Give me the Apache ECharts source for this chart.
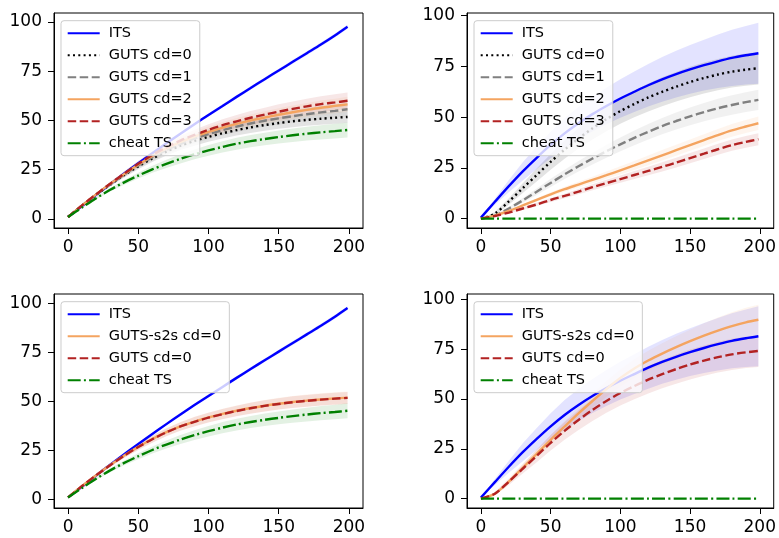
<!DOCTYPE html>
<html>
<head>
<meta charset="utf-8">
<script src="https://cdn.jsdelivr.net/npm/echarts/dist/echarts.min.js"></script>
<style>
  html, body { margin: 0; padding: 0; background: #fff; }
  #chart { width: 779px; height: 538px; }
</style>
</head>
<body>
<div id="chart"></div>
<script>
// x positions of the samples (steps)
var steps = [0, 10, 20, 30, 40, 50, 60, 70, 80, 90, 100, 110, 120, 130, 140, 150, 160, 170, 180, 190, 199];
var xTicks = [0, 50, 100, 150, 200];
var yTicks = [0, 25, 50, 75, 100];

// left column (panels 1 and 3)
var itsA         = [1, 6.6, 12.2, 17.7, 23.1, 28.3, 33.4, 38.4, 43.3, 48.1, 52.8, 57.4, 62, 66.5, 71, 75.4, 79.8, 84.2, 88.6, 93.2, 97.6];
var itsASpread   = [0.1, 0.2, 0.3, 0.4, 0.5, 0.5, 0.6, 0.6, 0.7, 0.7, 0.8, 0.8, 0.8, 0.9, 0.9, 0.9, 1, 1, 1, 1, 1];
var gutsA0       = [1, 6.8, 12.3, 17.4, 22.3, 26.7, 30.7, 34.2, 37.2, 39.6, 41.7, 43.5, 45.1, 46.5, 47.7, 48.7, 49.6, 50.3, 50.9, 51.4, 51.8];
var gutsA0Spread = [0.1, 0.3, 0.6, 0.9, 1.2, 1.5, 1.8, 2, 2.2, 2.4, 2.5, 2.6, 2.7, 2.8, 2.9, 2.9, 3, 3, 3, 3, 3];
var gutsA1       = [1, 6.8, 12.4, 17.6, 22.6, 27.2, 31.4, 35, 38.1, 40.8, 43.1, 45.1, 46.9, 48.5, 49.9, 51.1, 52.2, 53.2, 54.1, 54.9, 55.7];
var gutsA1Spread = [0.1, 0.3, 0.6, 0.9, 1.2, 1.5, 1.8, 2, 2.2, 2.4, 2.6, 2.7, 2.8, 2.9, 3, 3.1, 3.2, 3.3, 3.4, 3.4, 3.5];
var gutsA2       = [1, 6.9, 12.5, 17.8, 22.8, 27.6, 32, 35.8, 39, 41.8, 44.2, 46.4, 48.3, 50, 51.5, 52.9, 54.2, 55.4, 56.5, 57.4, 58.2];
var gutsA2Spread = [0.1, 0.3, 0.6, 0.9, 1.2, 1.5, 1.8, 2, 2.3, 2.5, 2.7, 2.8, 3, 3.1, 3.2, 3.3, 3.4, 3.5, 3.6, 3.7, 3.8];
var gutsA3       = [1, 6.9, 12.5, 17.9, 23, 28, 32.5, 36.4, 39.8, 42.7, 45.3, 47.6, 49.6, 51.4, 53, 54.5, 55.9, 57.2, 58.3, 59.2, 60];
var gutsA3Spread = [0.1, 0.3, 0.6, 0.9, 1.2, 1.5, 1.8, 2.1, 2.4, 2.6, 2.8, 3, 3.2, 3.4, 3.5, 3.7, 3.8, 3.9, 4, 4.1, 4.2];
var cheatA       = [1, 5.8, 10.5, 14.8, 18.6, 22, 25.2, 28, 30.5, 32.8, 34.8, 36.6, 38.2, 39.5, 40.6, 41.6, 42.5, 43.3, 44, 44.6, 45.2];
var cheatASpread = [0.1, 0.3, 0.6, 0.9, 1.2, 1.5, 1.8, 2.1, 2.3, 2.5, 2.7, 2.9, 3, 3.1, 3.2, 3.3, 3.4, 3.5, 3.6, 3.7, 3.8];
var s2sA         = [1, 6.8, 12.3, 17.5, 22.4, 26.8, 30.8, 34.3, 37.3, 39.7, 41.8, 43.6, 45.2, 46.6, 47.8, 48.8, 49.7, 50.4, 51, 51.5, 51.9];
var s2sASpread   = [0.1, 0.3, 0.6, 0.9, 1.2, 1.5, 1.8, 2, 2.2, 2.4, 2.5, 2.6, 2.7, 2.8, 2.9, 3, 3, 3.1, 3.1, 3.2, 3.2];

// right column (panels 2 and 4)
var itsB         = [0.5, 8.3, 16, 23.3, 30, 36.3, 42, 47, 51.5, 55.5, 59.2, 62.5, 65.7, 68.6, 71.2, 73.5, 75.6, 77.5, 79.2, 80.5, 81.5];
var itsBSpread   = [0, 1.5, 3, 4.5, 5.5, 6.5, 7.5, 8, 8.5, 9, 9.5, 10, 10.5, 11, 11.5, 12, 12.5, 13.2, 13.8, 14.4, 15];
var gutsB0       = [0, 2.5, 8.5, 15, 21.5, 28, 34, 39.5, 44.5, 49, 53, 56.5, 59.7, 62.5, 65, 67.3, 69.3, 71, 72.4, 73.4, 74.1];
var gutsB0Spread = [0, 0.8, 1.6, 2.4, 3.2, 3.9, 4.5, 5, 5.5, 5.9, 6.3, 6.6, 6.9, 7.1, 7.3, 7.5, 7.6, 7.7, 7.8, 7.9, 8];
var gutsB1       = [0, 1.5, 5, 9, 13.3, 17.6, 21.8, 25.8, 29.6, 33.2, 36.6, 39.8, 42.8, 45.6, 48.1, 50.4, 52.5, 54.4, 56, 57.4, 58.5];
var gutsB1Spread = [0, 0.4, 0.8, 1.2, 1.6, 2, 2.3, 2.6, 2.9, 3.2, 3.4, 3.6, 3.8, 4, 4.2, 4.4, 4.5, 4.7, 4.8, 4.9, 5];
var gutsB2       = [0, 1.5, 3.8, 6.5, 9.3, 12, 14.5, 16.8, 19.1, 21.4, 23.8, 26.2, 28.7, 31.2, 33.7, 36.2, 38.7, 41.2, 43.5, 45.4, 47];
var gutsB2Spread = [0, 0.2, 0.4, 0.6, 0.8, 1, 1.2, 1.4, 1.6, 1.8, 2, 2.2, 2.4, 2.6, 2.7, 2.8, 2.9, 3, 3.1, 3.2, 3.3];
var gutsB3       = [0, 1.3, 3, 5, 7, 9.2, 11.2, 13.3, 15.5, 17.5, 19.5, 21.5, 23.5, 25.5, 27.6, 29.8, 32, 34.2, 36.2, 37.8, 39.1];
var gutsB3Spread = [0, 0.2, 0.4, 0.6, 0.8, 1, 1.1, 1.3, 1.5, 1.7, 1.8, 2, 2.1, 2.3, 2.4, 2.5, 2.6, 2.7, 2.8, 2.9, 3];
var cheatB       = [0, 0, 0, 0, 0, 0, 0, 0, 0, 0, 0, 0, 0, 0, 0, 0, 0, 0, 0, 0, 0];
var s2sB         = [0, 2.5, 8.5, 15.5, 22.5, 29.5, 36.2, 42.8, 49, 55, 60.5, 65.3, 69.3, 72.8, 76, 79, 81.8, 84.3, 86.6, 88.5, 89.8];
var s2sBSpread   = [0, 0.5, 1, 1.5, 2, 2.4, 2.8, 3.2, 3.6, 4, 4.3, 4.6, 4.9, 5.2, 5.5, 5.8, 6.2, 6.6, 7, 7.3, 7.5];

var BLUE = '#0000ff', BLACK = '#000000', GRAY = '#808080',
    ORANGE = '#f4a460', RED = '#b22222', GREEN = '#008000';
var DOTTED = [2, 3.3], DASHED = [8.5, 3.5], DASHDOT = [13, 3.2, 2, 3.2];
var FONT = 'DejaVu Sans';

var grids = [
    {left: 54,  top: 13,  width: 309, height: 215},
    {left: 467, top: 13,  width: 310, height: 215},
    {left: 54,  top: 294, width: 309, height: 214},
    {left: 467, top: 294, width: 310, height: 214}
];
var yRanges = [[-4.6, 104.6], [-4.6, 101.3], [-4.4, 104.8], [-4.7, 102.7]];
var legendPos = [[61, 20.7], [474, 20.7], [61, 301.7], [474, 301.7]];

function pts(ys){
    return steps.map(function(x, i){ return [x, ys[i]]; });
}

var series = [];
var legendNames = [[], [], [], []];

function addLine(gi, label, ys, color, type){
    var name = label + '@' + gi;
    legendNames[gi].push(name);
    series.push({
        name: name,
        type: 'line',
        xAxisIndex: gi,
        yAxisIndex: gi,
        data: pts(ys),
        symbol: 'none',
        smooth: 0.3,
        z: 3,
        silent: true,
        itemStyle: {color: color},
        lineStyle: {color: color, width: 2.4, type: type}
    });
}

// shaded spread band, drawn as one polygon through the axis scales
function addBand(gi, ys, sp, color){
    series.push({
        type: 'custom',
        xAxisIndex: gi,
        yAxisIndex: gi,
        data: pts(ys),
        silent: true,
        z: 1,
        renderItem: function(params, api){
            if (params.dataIndex !== 0) return null;
            var upper = [], lower = [];
            for (var i = 0; i < steps.length; i++) {
                upper.push(api.coord([steps[i], ys[i] + sp[i]]));
                lower.unshift(api.coord([steps[i], ys[i] - sp[i]]));
            }
            return {
                type: 'polygon',
                shape: {points: upper.concat(lower)},
                style: {fill: color, opacity: 0.11}
            };
        }
    });
}

// panel 1
addLine(0, 'ITS', itsA, BLUE, 'solid');          addBand(0, itsA, itsASpread, BLUE);
addLine(0, 'GUTS cd=0', gutsA0, BLACK, DOTTED);  addBand(0, gutsA0, gutsA0Spread, BLACK);
addLine(0, 'GUTS cd=1', gutsA1, GRAY, DASHED);   addBand(0, gutsA1, gutsA1Spread, GRAY);
addLine(0, 'GUTS cd=2', gutsA2, ORANGE, 'solid');addBand(0, gutsA2, gutsA2Spread, ORANGE);
addLine(0, 'GUTS cd=3', gutsA3, RED, DASHED);    addBand(0, gutsA3, gutsA3Spread, RED);
addLine(0, 'cheat TS', cheatA, GREEN, DASHDOT);  addBand(0, cheatA, cheatASpread, GREEN);

// panel 2
addLine(1, 'ITS', itsB, BLUE, 'solid');          addBand(1, itsB, itsBSpread, BLUE);
addLine(1, 'GUTS cd=0', gutsB0, BLACK, DOTTED);  addBand(1, gutsB0, gutsB0Spread, BLACK);
addLine(1, 'GUTS cd=1', gutsB1, GRAY, DASHED);   addBand(1, gutsB1, gutsB1Spread, GRAY);
addLine(1, 'GUTS cd=2', gutsB2, ORANGE, 'solid');addBand(1, gutsB2, gutsB2Spread, ORANGE);
addLine(1, 'GUTS cd=3', gutsB3, RED, DASHED);    addBand(1, gutsB3, gutsB3Spread, RED);
addLine(1, 'cheat TS', cheatB, GREEN, DASHDOT);

// panel 3
addLine(2, 'ITS', itsA, BLUE, 'solid');               addBand(2, itsA, itsASpread, BLUE);
addLine(2, 'GUTS-s2s cd=0', s2sA, ORANGE, 'solid');   addBand(2, s2sA, s2sASpread, ORANGE);
addLine(2, 'GUTS cd=0', gutsA0, RED, DASHED);         addBand(2, gutsA0, gutsA0Spread, RED);
addLine(2, 'cheat TS', cheatA, GREEN, DASHDOT);       addBand(2, cheatA, cheatASpread, GREEN);

// panel 4
addLine(3, 'ITS', itsB, BLUE, 'solid');               addBand(3, itsB, itsBSpread, BLUE);
addLine(3, 'GUTS-s2s cd=0', s2sB, ORANGE, 'solid');   addBand(3, s2sB, s2sBSpread, ORANGE);
addLine(3, 'GUTS cd=0', gutsB0, RED, DASHED);         addBand(3, gutsB0, gutsB0Spread, RED);
addLine(3, 'cheat TS', cheatB, GREEN, DASHDOT);

var option = {
    backgroundColor: '#ffffff',
    animation: false,
    grid: grids.map(function(g){
        return {left: g.left, top: g.top, width: g.width, height: g.height,
                show: true, borderColor: '#000', borderWidth: 1, backgroundColor: '#fff'};
    }),
    xAxis: grids.map(function(g, i){
        return {
            type: 'value', gridIndex: i, min: -10, max: 210,
            axisLine: {show: true, onZero: false, lineStyle: {color: '#000', width: 1}},
            axisTick: {show: true, length: 6, customValues: xTicks, lineStyle: {color: '#000', width: 1}},
            axisLabel: {customValues: xTicks, margin: 11, fontSize: 17, color: '#000', fontFamily: FONT},
            splitLine: {show: false}
        };
    }),
    yAxis: grids.map(function(g, i){
        return {
            type: 'value', gridIndex: i, min: yRanges[i][0], max: yRanges[i][1],
            axisLine: {show: true, onZero: false, lineStyle: {color: '#000', width: 1}},
            axisTick: {show: true, length: 6, customValues: yTicks, lineStyle: {color: '#000', width: 1}},
            axisLabel: {customValues: yTicks, margin: 12, fontSize: 17, color: '#000', fontFamily: FONT},
            splitLine: {show: false}
        };
    }),
    legend: legendNames.map(function(names, i){
        return {
            orient: 'vertical',
            left: legendPos[i][0],
            top: legendPos[i][1],
            data: names,
            selectedMode: false,
            formatter: function(n){ return n.split('@')[0]; },
            backgroundColor: 'rgba(255,255,255,0.8)',
            borderColor: '#cccccc',
            borderWidth: 1,
            borderRadius: 3,
            padding: [4.5, 8, 4.5, 5.7],
            itemWidth: 32,
            itemHeight: 14,
            itemGap: 6,
            itemStyle: {opacity: 0},
            textStyle: {fontSize: 14.5, fontFamily: FONT, color: '#000', lineHeight: 16, padding: [0, 0, 0, 4]}
        };
    }),
    series: series
};

echarts.init(document.getElementById('chart')).setOption(option);
</script>
</body>
</html>
